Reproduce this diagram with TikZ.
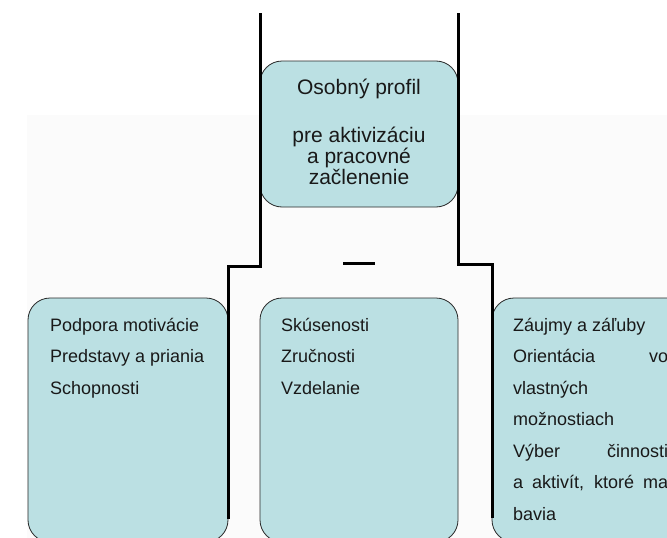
\documentclass[tikz,border=0pt]{standalone}
\usepackage{fontspec}
\setmainfont{Liberation Sans}
\definecolor{boxfill}{RGB}{187,224,227}
\definecolor{bggray}{RGB}{251,251,251}
\definecolor{boxline}{RGB}{40,40,40}
\tikzset{
  cbox/.style={draw=boxline, fill=boxfill, rounded corners=22pt, line width=0.8pt, inner sep=0pt},
  conn/.style={line width=3pt, black, line join=miter},
  toptext/.style={anchor=base, inner sep=0pt, font=\fontsize{21pt}{25pt}\selectfont, text=black!90},
  bottext/.style={anchor=base west, inner sep=0pt, font=\fontsize{18pt}{22pt}\selectfont, text=black!90}
}
\begin{document}
\begin{tikzpicture}[x=1pt,y=-1pt]
\useasboundingbox (0,0) rectangle (667,538);
\clip (0,0) rectangle (667,538);
\fill[white] (0,0) rectangle (667,538);
\fill[bggray] (27,115) rectangle (667,538);

% boxes
\node[cbox, minimum width=198pt, minimum height=146pt] (center) at (359,134) {};
\node[cbox, minimum width=200pt, minimum height=244pt] (left) at (128,420) {};
\node[cbox, minimum width=198pt, minimum height=244pt] (mid) at (359,420) {};
\node[cbox, minimum width=208pt, minimum height=244pt] (right) at (596,420) {};

% connectors
\coordinate (lt) at (260,13);
\coordinate (lm) at (260,266);
\coordinate (lk) at (228,266);
\coordinate (lb) at (228,519);
\coordinate (rt) at (458,13);
\coordinate (rm) at (458,264);
\coordinate (rk) at (492,264);
\coordinate (rb) at (492,518);
\coordinate (da) at (343,263);
\coordinate (db) at (375,263);
\draw[conn] (lt) -- (lm) -- (lk) -- (lb);
\draw[conn] (rt) -- (rm) -- (rk) -- (rb);
\draw[conn] (da) -- (db);

% top text
\node[toptext] (t1) at (359,94) {Osobný profil};
\node[toptext] (t2) at (359,142) {pre aktivizáciu};
\node[toptext] (t3) at (359,163) {a pracovné};
\node[toptext] (t4) at (359,184) {začlenenie};

% left text
\node[bottext] (l1) at (50,331) {Podpora motivácie};
\node[bottext] (l2) at (50,362.5) {Predstavy a priania};
\node[bottext] (l3) at (50,394) {Schopnosti};

% middle text
\node[bottext] (m1) at (281,331) {Skúsenosti};
\node[bottext] (m2) at (281,362.5) {Zručnosti};
\node[bottext] (m3) at (281,394) {Vzdelanie};

% right text
\node[bottext] (r1) at (513,331) {Záujmy a záľuby};
\node[bottext] (r2) at (513,362.5) {\makebox[155pt][s]{Orientácia vo}};
\node[bottext] (r3) at (513,394) {vlastných};
\node[bottext] (r4) at (513,425.5) {možnostiach};
\node[bottext] (r5) at (513,457) {\makebox[155pt][s]{Výber činnosti}};
\node[bottext] (r6) at (513,488.5) {\makebox[155pt][s]{a aktivít, ktoré ma}};
\node[bottext] (r7) at (513,520) {bavia};
\end{tikzpicture}
\end{document}
